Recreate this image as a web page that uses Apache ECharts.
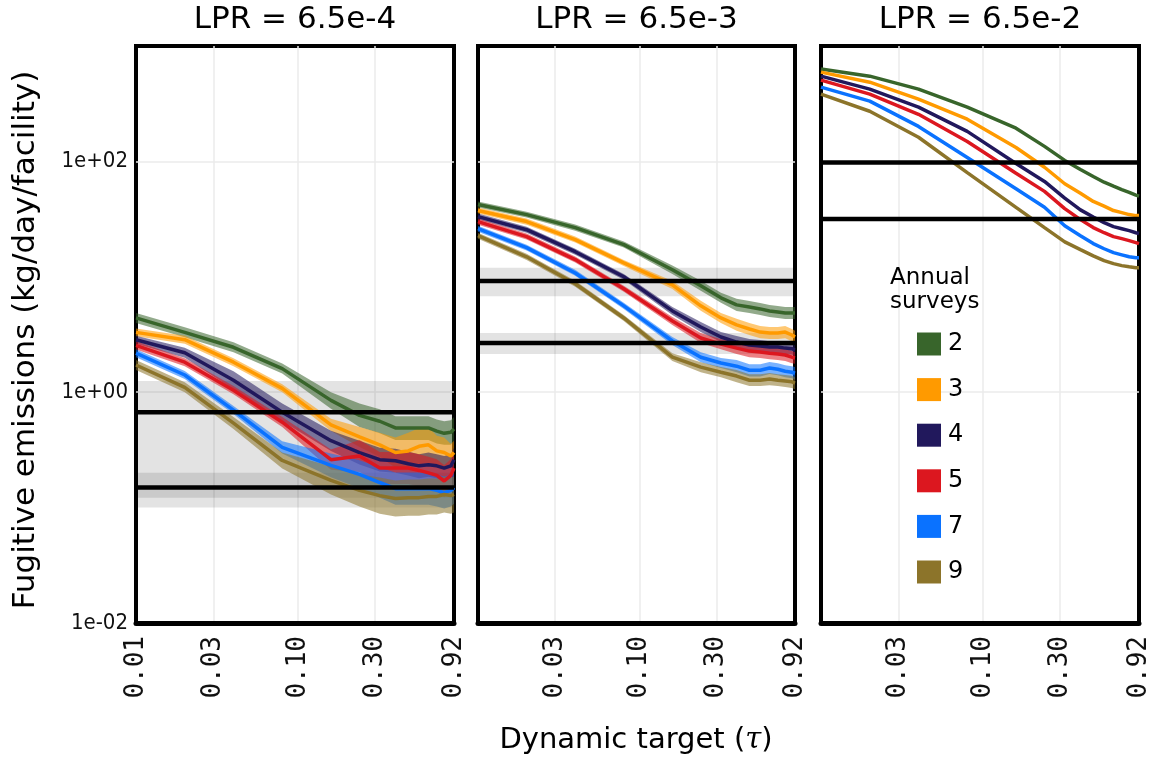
<!DOCTYPE html>
<html><head><meta charset="utf-8">
<script src="https://cdn.jsdelivr.net/npm/echarts@6/dist/echarts.min.js"></script>
<style>html,body{margin:0;padding:0;background:#fff}#c{width:1157px;height:757px}</style>
</head><body><div id="c"></div>
<script>
// ---------- data ----------
const tau = [0.01, 0.02, 0.04, 0.08, 0.16, 0.24, 0.32, 0.40, 0.48, 0.56, 0.64, 0.72, 0.80, 0.88, 0.92];
const surveys = ['2', '3', '4', '5', '7', '9'];
const colors = ['#38652b', '#ff9a00', '#21185c', '#dc171f', '#0a72ff', '#8c742a'];
const panelTitles = ['LPR = 6.5e-4', 'LPR = 6.5e-3', 'LPR = 6.5e-2'];
const xTickValues = [0.01, 0.03, 0.1, 0.3, 0.92];
const xTickLabels = ['0.01', '0.03', '0.10', '0.30', '0.92'];
const xGridValues = [0.03, 0.1, 0.3];
const yTickValues = [0.01, 1, 100];
const yTickLabels = ['1e-02', '1e+00', '1e+02'];
const yGridValues = [1, 100];

// Panel 1: LPR = 6.5e-4
const p1_s2    = [4.4, 3.3, 2.45, 1.6, 0.85, 0.63, 0.56, 0.49, 0.49, 0.49, 0.49, 0.46, 0.44, 0.45, 0.48];
const p1_s2_lo = [3.98, 2.99, 2.22, 1.45, 0.72, 0.50, 0.44, 0.385, 0.385, 0.385, 0.385, 0.36, 0.35, 0.35, 0.38];
const p1_s2_hi = [4.86, 3.65, 2.71, 1.77, 1.0, 0.80, 0.71, 0.62, 0.62, 0.62, 0.62, 0.58, 0.56, 0.57, 0.61];
const p1_s3    = [3.3, 2.85, 1.82, 1.08, 0.52, 0.41, 0.35, 0.30, 0.31, 0.34, 0.35, 0.31, 0.30, 0.28, 0.30];
const p1_s3_lo = [3.05, 2.63, 1.68, 1.0, 0.46, 0.335, 0.275, 0.222, 0.216, 0.237, 0.244, 0.23, 0.222, 0.22, 0.236];
const p1_s3_hi = [3.57, 3.09, 1.97, 1.17, 0.59, 0.50, 0.445, 0.405, 0.445, 0.49, 0.50, 0.42, 0.405, 0.356, 0.38];
const p1_s4    = [2.85, 2.2, 1.27, 0.67, 0.38, 0.30, 0.26, 0.255, 0.24, 0.23, 0.235, 0.23, 0.22, 0.23, 0.26];
const p1_s4_lo = [2.63, 1.99, 1.06, 0.56, 0.31, 0.236, 0.205, 0.20, 0.19, 0.18, 0.185, 0.18, 0.173, 0.18, 0.205];
const p1_s4_hi = [3.09, 2.43, 1.52, 0.80, 0.464, 0.38, 0.33, 0.324, 0.305, 0.29, 0.30, 0.29, 0.28, 0.29, 0.33];
const p1_s5    = [2.55, 1.82, 1.04, 0.55, 0.26, 0.28, 0.22, 0.22, 0.22, 0.21, 0.20, 0.19, 0.17, 0.19, 0.22];
const p1_s5_lo = [2.35, 1.68, 0.96, 0.50, 0.213, 0.203, 0.16, 0.16, 0.16, 0.152, 0.145, 0.138, 0.123, 0.138, 0.16];
const p1_s5_hi = [2.76, 1.97, 1.13, 0.61, 0.318, 0.386, 0.303, 0.303, 0.303, 0.29, 0.276, 0.262, 0.234, 0.262, 0.303];
const p1_s7    = [2.18, 1.41, 0.70, 0.333, 0.232, 0.194, 0.165, 0.146, 0.146, 0.146, 0.146, 0.141, 0.135, 0.141, 0.149];
const p1_s7_lo = [2.01, 1.30, 0.646, 0.295, 0.183, 0.147, 0.122, 0.106, 0.106, 0.106, 0.106, 0.102, 0.098, 0.102, 0.108];
const p1_s7_hi = [2.36, 1.53, 0.76, 0.376, 0.295, 0.257, 0.223, 0.201, 0.201, 0.201, 0.201, 0.194, 0.186, 0.194, 0.205];
const p1_s9    = [1.72, 1.1, 0.54, 0.256, 0.172, 0.141, 0.127, 0.12, 0.122, 0.122, 0.125, 0.125, 0.13, 0.127, 0.13];
const p1_s9_lo = [1.56, 1.0, 0.48, 0.218, 0.13, 0.102, 0.0886, 0.0837, 0.085, 0.085, 0.087, 0.087, 0.0907, 0.0886, 0.0907];
const p1_s9_hi = [1.9, 1.22, 0.61, 0.30, 0.228, 0.194, 0.182, 0.172, 0.175, 0.175, 0.179, 0.179, 0.186, 0.182, 0.186];
const p1_ref    = [0.67, 0.149];
const p1_ref_lo = [0.122, 0.10];
const p1_ref_hi = [1.25, 0.20];

// Panel 2: LPR = 6.5e-3
const p2_s2    = [42.3, 34.6, 26.7, 19.0, 11.5, 8.35, 6.57, 5.71, 5.48, 5.27, 5.06, 4.96, 4.86, 4.86, 4.86];
const p2_s2_lo = [39.8, 32.6, 25.1, 17.9, 10.6, 7.56, 5.95, 5.06, 4.86, 4.67, 4.49, 4.40, 4.31, 4.31, 4.31];
const p2_s2_hi = [44.9, 36.7, 28.4, 20.2, 12.5, 9.23, 7.26, 6.44, 6.18, 5.94, 5.71, 5.59, 5.48, 5.48, 5.48];
const p2_s3    = [37.5, 30.1, 21.0, 13.2, 8.5, 5.6, 4.4, 3.83, 3.53, 3.32, 3.26, 3.26, 3.32, 3.13, 3.01];
const p2_s3_lo = [35.3, 28.3, 19.8, 12.4, 7.85, 5.07, 3.98, 3.40, 3.13, 2.94, 2.89, 2.89, 2.94, 2.77, 2.67];
const p2_s3_hi = [39.8, 32.0, 22.3, 14.0, 9.2, 6.19, 4.86, 4.32, 3.98, 3.74, 3.68, 3.68, 3.74, 3.53, 3.40];
const p2_s4    = [33.2, 25.6, 16.5, 10.0, 5.06, 3.67, 3.01, 2.72, 2.56, 2.51, 2.46, 2.46, 2.41, 2.38, 2.32];
const p2_s4_lo = [31.3, 24.1, 15.5, 9.42, 4.67, 3.32, 2.72, 2.41, 2.27, 2.23, 2.18, 2.18, 2.14, 2.11, 2.06];
const p2_s4_hi = [35.3, 27.2, 17.5, 10.6, 5.48, 4.06, 3.33, 3.07, 2.89, 2.83, 2.77, 2.77, 2.72, 2.68, 2.62];
const p2_s5    = [30.1, 22.3, 14.1, 7.87, 4.14, 2.95, 2.61, 2.41, 2.27, 2.23, 2.18, 2.14, 2.10, 2.01, 1.98];
const p2_s5_lo = [28.3, 21.0, 13.3, 7.41, 3.82, 2.67, 2.36, 2.14, 2.01, 1.98, 1.93, 1.90, 1.86, 1.78, 1.76];
const p2_s5_hi = [32.0, 23.7, 15.0, 8.36, 4.48, 3.26, 2.88, 2.72, 2.56, 2.52, 2.46, 2.41, 2.37, 2.27, 2.23];
const p2_s7    = [26.1, 17.9, 10.8, 5.6, 2.78, 2.01, 1.79, 1.68, 1.55, 1.55, 1.62, 1.58, 1.52, 1.49, 1.46];
const p2_s7_lo = [24.6, 16.9, 10.2, 5.27, 2.57, 1.82, 1.62, 1.49, 1.37, 1.37, 1.44, 1.40, 1.35, 1.32, 1.29];
const p2_s7_hi = [27.7, 19.0, 11.5, 5.95, 3.01, 2.22, 1.98, 1.90, 1.75, 1.75, 1.83, 1.78, 1.71, 1.68, 1.65];
const p2_s9    = [22.7, 14.9, 8.7, 4.4, 2.01, 1.65, 1.49, 1.38, 1.27, 1.27, 1.30, 1.27, 1.25, 1.23, 1.20];
const p2_s9_lo = [21.4, 14.0, 8.19, 4.14, 1.86, 1.49, 1.35, 1.22, 1.13, 1.13, 1.15, 1.13, 1.11, 1.09, 1.06];
const p2_s9_hi = [24.1, 15.8, 9.24, 4.67, 2.18, 1.82, 1.65, 1.56, 1.43, 1.43, 1.47, 1.43, 1.41, 1.39, 1.35];
const p2_ref    = [9.2, 2.67];
const p2_ref_lo = [6.8, 2.14];
const p2_ref_hi = [12.0, 3.26];

// Panel 3: LPR = 6.5e-2
const p3_s2 = [631, 548, 423, 295, 194, 135, 102, 85, 74, 66, 61, 57, 54, 51, 50];
const p3_s3 = [594, 486, 346, 232, 132, 89, 64, 53, 45, 41, 37.5, 36, 34.6, 33.9, 33.9];
const p3_s4 = [548, 423, 295, 182, 96, 67, 48, 38, 33, 29.5, 27.2, 26.1, 25.1, 24.1, 23.7];
const p3_s5 = [506, 383, 256, 149, 79, 55, 39, 31.3, 26.7, 24.1, 22.3, 21.4, 20.6, 19.8, 19.4];
const p3_s7 = [440, 333, 201, 108, 58, 40, 27.7, 22.7, 19.4, 17.5, 16.2, 15.5, 14.9, 14.6, 14.6];
const p3_s9 = [383, 272, 162, 80, 40, 26.7, 20.1, 17.2, 15.2, 13.8, 13.0, 12.5, 12.2, 12.0, 12.0];
const p3_ref = [98, 31.7];

// ---------- build ----------
const panels = [
  { means: [p1_s2, p1_s3, p1_s4, p1_s5, p1_s7, p1_s9],
    lows:  [p1_s2_lo, p1_s3_lo, p1_s4_lo, p1_s5_lo, p1_s7_lo, p1_s9_lo],
    highs: [p1_s2_hi, p1_s3_hi, p1_s4_hi, p1_s5_hi, p1_s7_hi, p1_s9_hi],
    ref: p1_ref, refLo: p1_ref_lo, refHi: p1_ref_hi },
  { means: [p2_s2, p2_s3, p2_s4, p2_s5, p2_s7, p2_s9],
    lows:  [p2_s2_lo, p2_s3_lo, p2_s4_lo, p2_s5_lo, p2_s7_lo, p2_s9_lo],
    highs: [p2_s2_hi, p2_s3_hi, p2_s4_hi, p2_s5_hi, p2_s7_hi, p2_s9_hi],
    ref: p2_ref, refLo: p2_ref_lo, refHi: p2_ref_hi },
  { means: [p3_s2, p3_s3, p3_s4, p3_s5, p3_s7, p3_s9],
    lows: null, highs: null, ref: p3_ref, refLo: null, refHi: null }
];

const gridRects = [
  { left: 136, top: 46, width: 318, height: 577 },
  { left: 478, top: 46, width: 317, height: 577 },
  { left: 821, top: 46, width: 318, height: 577 }
];
const xMin = 0.01, xMax = 0.92, yMin = 0.01, yMax = 1000;

function lookup(vals, labels, v) {
  for (let i = 0; i < vals.length; i++) {
    if (Math.abs(v - vals[i]) / vals[i] < 0.01) return labels[i];
  }
  return '';
}

const grids = [], xAxes = [], yAxes = [], series = [];
gridRects.forEach((g, p) => {
  grids.push(Object.assign({ show: true, borderColor: '#000', borderWidth: 4,
    backgroundColor: '#fff', outerBoundsMode: 'none', containLabel: false, z: 0 }, g));
  xAxes.push({
    type: 'log', logBase: 10, gridIndex: p, min: xMin, max: xMax,
    axisLine: { show: true, onZero: false, lineStyle: { color: '#000', width: 5 } },
    axisTick: { show: false, customValues: xGridValues },
    axisLabel: {
      show: true, customValues: p === 0 ? xTickValues : xTickValues.slice(1),
      rotate: 90, margin: 13, color: '#111',
      fontFamily: '"DejaVu Sans Mono", monospace', fontSize: 26,
      formatter: v => lookup(xTickValues, xTickLabels, v)
    },
    splitLine: { show: true, lineStyle: { color: '#ebebeb', width: 1.5 } }
  });
  yAxes.push({
    type: 'log', logBase: 10, gridIndex: p, min: yMin, max: yMax,
    axisLine: { show: false },
    axisTick: { show: false, customValues: yGridValues },
    axisLabel: {
      show: p === 0, customValues: yTickValues, margin: 8, color: '#111',
      fontFamily: '"DejaVu Sans Condensed", "Liberation Sans Narrow", "DejaVu Sans", sans-serif', fontSize: 22,
      formatter: v => lookup(yTickValues, yTickLabels, v)
    },
    splitLine: { show: true, lineStyle: { color: '#ebebeb', width: 1.5 } }
  });

  const P = panels[p];
  // grey reference bands
  if (P.refLo) {
    const lo = P.refLo, hi = P.refHi;
    series.push({
      type: 'custom', xAxisIndex: p, yAxisIndex: p, silent: true, clip: true, z: 1,
      data: lo.map((v, i) => [xMin, v]),
      renderItem: function (params, api) {
        const i = params.dataIndex;
        const a = api.coord([xMin, hi[i]]);
        const b = api.coord([xMax, lo[i]]);
        return { type: 'rect', shape: { x: a[0], y: a[1], width: b[0] - a[0], height: b[1] - a[1] },
          style: { fill: 'rgba(0,0,0,0.11)' } };
      }
    });
  }
  // confidence bands
  if (P.lows) {
    P.lows.forEach((lo, k) => {
      const hi = P.highs[k];
      series.push({
        type: 'custom', xAxisIndex: p, yAxisIndex: p, silent: true, clip: true, z: 2,
        data: [[tau[0], lo[0]]],
        renderItem: function (params, api) {
          const pts = [];
          for (let i = 0; i < tau.length; i++) pts.push(api.coord([tau[i], hi[i]]));
          for (let i = tau.length - 1; i >= 0; i--) pts.push(api.coord([tau[i], lo[i]]));
          return { type: 'polygon', shape: { points: pts }, style: { fill: colors[k], opacity: 0.55 } };
        }
      });
    });
  }
  // mean lines
  P.means.forEach((m, k) => {
    series.push({
      type: 'line', name: surveys[k], xAxisIndex: p, yAxisIndex: p, z: 3,
      data: tau.map((x, i) => [x, m[i]]),
      symbol: 'none', color: colors[k], clip: true,
      lineStyle: { color: colors[k], width: 3.5 },
      itemStyle: { color: colors[k], borderWidth: 0 },
      emphasis: { disabled: true }, silent: true
    });
  });
  // black reference lines
  P.ref.forEach(v => {
    series.push({
      type: 'line', xAxisIndex: p, yAxisIndex: p, z: 4, symbol: 'none', silent: true,
      data: [[xMin, v], [xMax, v]],
      lineStyle: { color: '#000', width: 4.5 }, emphasis: { disabled: true }
    });
  });
});

const titleFont = '"DejaVu Sans", Verdana, sans-serif';
const graphics = [];
gridRects.forEach((g, p) => {
  graphics.push({ type: 'text', x: g.left + g.width / 2, y: 20, silent: true,
    style: { text: panelTitles[p], font: '31px ' + titleFont, fill: '#000',
      align: 'center', verticalAlign: 'middle', textAlign: 'center', textVerticalAlign: 'middle' } });
});
graphics.push({ type: 'text', x: 26, y: 340, rotation: Math.PI / 2, silent: true,
  style: { text: 'Fugitive emissions (kg/day/facility)', font: '31px ' + titleFont, fill: '#000',
    align: 'center', verticalAlign: 'middle', textAlign: 'center', textVerticalAlign: 'middle' } });
graphics.push({ type: 'text', x: 636, y: 740, silent: true,
  style: { text: 'Dynamic target ({t|τ})', font: '29px ' + titleFont, fill: '#000',
    align: 'center', verticalAlign: 'middle', textAlign: 'center', textVerticalAlign: 'middle',
    rich: { t: { fontFamily: '"DejaVu Serif", serif', fontStyle: 'italic', fontSize: 29, fill: '#000' } } } });
graphics.push({ type: 'text', x: 890, y: 278, silent: true, z: 10,
  style: { text: 'Annual', font: '23px ' + titleFont, fill: '#000',
    align: 'left', verticalAlign: 'middle', textAlign: 'left', textVerticalAlign: 'middle' } });
graphics.push({ type: 'text', x: 890, y: 302, silent: true, z: 10,
  style: { text: 'surveys', font: '23px ' + titleFont, fill: '#000',
    align: 'left', verticalAlign: 'middle', textAlign: 'left', textVerticalAlign: 'middle' } });

const chart = echarts.init(document.getElementById('c'), null, { renderer: 'canvas' });
chart.setOption({
  animation: false,
  backgroundColor: '#fff',
  grid: grids,
  xAxis: xAxes,
  yAxis: yAxes,
  legend: {
    data: surveys, orient: 'vertical', left: 917, top: 332, padding: 0,
    icon: 'rect', itemWidth: 24, itemHeight: 23, itemGap: 21.6,
    selectedMode: false, z: 10,
    itemStyle: { borderWidth: 0 },
    textStyle: { fontSize: 24, fontFamily: titleFont, color: '#000', padding: [0, 0, 0, 2] }
  },
  graphic: graphics,
  series: series
});
</script></body></html>
